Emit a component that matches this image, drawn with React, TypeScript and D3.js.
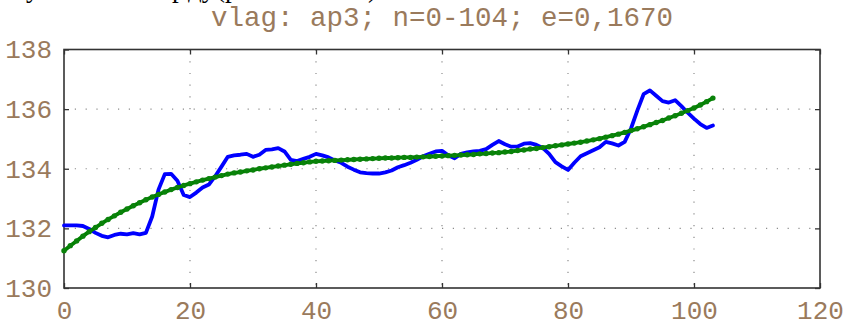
import { useEffect, useRef } from 'react';
import * as d3 from 'd3';

// measured signal, n = 0..103
const measured = [
  132.1, 132.1, 132.1, 132.08, 131.98, 131.85, 131.75, 131.7, 131.78, 131.82,
  131.8, 131.84, 131.8, 131.85, 132.4, 133.3, 133.82, 133.83, 133.6, 133.12,
  133.05, 133.2, 133.37, 133.47, 133.75, 134.07, 134.4, 134.45, 134.47, 134.5,
  134.4, 134.47, 134.63, 134.65, 134.69, 134.58, 134.3, 134.26, 134.33, 134.4,
  134.5, 134.45, 134.38, 134.28, 134.2, 134.07, 133.97, 133.88, 133.85, 133.84,
  133.84, 133.88, 133.94, 134.05, 134.12, 134.2, 134.3, 134.42, 134.5, 134.58,
  134.6, 134.45, 134.35, 134.5, 134.55, 134.58, 134.6, 134.66, 134.8, 134.93,
  134.82, 134.74, 134.75, 134.84, 134.86, 134.8, 134.7, 134.5, 134.22, 134.08,
  133.96, 134.2, 134.42, 134.52, 134.62, 134.72, 134.9, 134.85, 134.78, 134.9,
  135.35, 135.95, 136.5, 136.63, 136.45, 136.27, 136.22, 136.3, 136.1, 135.88,
  135.68, 135.5, 135.37, 135.45,
];

// fitted trend, n = 0..103
const trend = [
  131.25, 131.42, 131.58, 131.74, 131.89, 132.03, 132.17, 132.3, 132.42, 132.54,
  132.65, 132.76, 132.86, 132.96, 133.05, 133.14, 133.22, 133.3, 133.37, 133.44,
  133.5, 133.56, 133.62, 133.67, 133.72, 133.77, 133.82, 133.86, 133.89, 133.93,
  133.96, 134.0, 134.03, 134.06, 134.09, 134.12, 134.15, 134.18, 134.2, 134.23,
  134.25, 134.26, 134.27, 134.28, 134.29, 134.3, 134.31, 134.32, 134.33, 134.34,
  134.35, 134.36, 134.36, 134.37, 134.38, 134.38, 134.39, 134.4, 134.41, 134.42,
  134.43, 134.44, 134.45, 134.46, 134.47, 134.48, 134.5, 134.51, 134.53, 134.54,
  134.56, 134.58, 134.61, 134.63, 134.66, 134.68, 134.71, 134.74, 134.77, 134.8,
  134.83, 134.86, 134.89, 134.93, 134.97, 135.01, 135.06, 135.11, 135.16, 135.22,
  135.28, 135.34, 135.41, 135.48, 135.55, 135.62, 135.7, 135.78, 135.86, 135.95,
  136.04, 136.14, 136.25, 136.37,
];

const xTicks = [0, 20, 40, 60, 80, 100, 120];
const yTicks = [130, 132, 134, 136, 138];
const title = 'vlag: ap3; n=0-104; e=0,1670';

// bottom edge of the text line above the figure (cut off in the scan)
const cutText = [
  { t: 'у', x: 26 },
  { t: 'р', x: 172 },
  { t: 'ду', x: 188 },
  { t: '(р', x: 216 },
  { t: ')', x: 368 },
];

const W = 846;
const H = 322;
const labelColor = '#9a7a5c';
const mono = '"Liberation Mono", "Courier New", monospace';

export default function App() {
  const svgRef = useRef<SVGSVGElement>(null);

  useEffect(() => {
    if (!svgRef.current) return;
    const margin = { top: 49.5, right: 26, bottom: 34, left: 64 };
    const innerW = W - margin.left - margin.right;
    const innerH = H - margin.top - margin.bottom;

    const svg = d3.select(svgRef.current);
    svg.selectAll('*').remove();

    svg.append('g')
      .selectAll('text')
      .data(cutText).join('text')
      .attr('x', d => d.x).attr('y', -3)
      .attr('font-family', '"Liberation Serif", serif')
      .attr('font-size', 27)
      .attr('fill', '#000')
      .text(d => d.t);

    svg.append('text')
      .attr('x', margin.left + innerW / 2)
      .attr('y', 26)
      .attr('text-anchor', 'middle')
      .attr('font-family', mono)
      .attr('font-size', 27.5)
      .attr('fill', labelColor)
      .text(title);

    const g = svg.append('g').attr('transform', `translate(${margin.left},${margin.top})`);

    const x = d3.scaleLinear().domain([0, 120]).range([0, innerW]);
    const y = d3.scaleLinear().domain([130, 138]).range([innerH, 0]);
    const idx = (_d: number, i: number) => x(i);

    // dotted grid
    g.append('g')
      .selectAll('line')
      .data(xTicks.slice(1, -1)).join('line')
      .attr('x1', d => x(d)).attr('x2', d => x(d))
      .attr('y1', 0).attr('y2', innerH)
      .attr('stroke', '#8c8c8c').attr('stroke-width', 1.2)
      .attr('stroke-dasharray', '1.2,10.5');
    g.append('g')
      .selectAll('line')
      .data(yTicks.slice(1, -1)).join('line')
      .attr('x1', 0).attr('x2', innerW)
      .attr('y1', d => y(d)).attr('y2', d => y(d))
      .attr('stroke', '#8c8c8c').attr('stroke-width', 1.2)
      .attr('stroke-dasharray', '1.2,9.6');

    const fontAxis = (sel: d3.Selection<SVGGElement, unknown, null, undefined>) => {
      sel.select('.domain').remove();
      sel.selectAll('.tick line').attr('stroke', '#333').attr('stroke-width', 1.3);
      sel.selectAll('.tick text')
        .attr('fill', labelColor)
        .attr('font-family', mono)
        .attr('font-size', 26);
    };

    g.append('g')
      .attr('transform', `translate(0,${innerH})`)
      .call(d3.axisBottom(x).tickValues(xTicks).tickSize(-5).tickPadding(13))
      .call(fontAxis);
    g.append('g')
      .call(d3.axisTop(x).tickValues(xTicks).tickSize(-5).tickFormat(() => ''))
      .call(fontAxis);
    g.append('g')
      .call(d3.axisLeft(y).tickValues(yTicks).tickSize(-5).tickPadding(12))
      .call(fontAxis);
    g.append('g')
      .attr('transform', `translate(${innerW},0)`)
      .call(d3.axisRight(y).tickValues(yTicks).tickSize(-5).tickFormat(() => ''))
      .call(fontAxis);

    g.append('rect')
      .attr('width', innerW).attr('height', innerH)
      .attr('fill', 'none').attr('stroke', '#333').attr('stroke-width', 1.6);

    const line = d3.line<number>().x(idx).y(d => y(d));

    g.append('path').datum(measured)
      .attr('d', line)
      .attr('fill', 'none').attr('stroke', '#0000ff')
      .attr('stroke-width', 3.8).attr('stroke-linejoin', 'round').attr('stroke-linecap', 'round');

    g.append('path').datum(trend)
      .attr('d', line)
      .attr('fill', 'none').attr('stroke', '#008000')
      .attr('stroke-width', 3.8).attr('stroke-linejoin', 'round');

    g.append('g')
      .selectAll('circle')
      .data(trend).join('circle')
      .attr('cx', idx)
      .attr('cy', d => y(d))
      .attr('r', 2.7)
      .attr('fill', '#0a820a');
  }, []);

  return (
    <div style={{ position: 'absolute', left: 0, top: 0, width: W, height: H, background: '#fff' }}>
      <svg ref={svgRef} width={W} height={H} style={{ display: 'block' }} />
    </div>
  );
}
